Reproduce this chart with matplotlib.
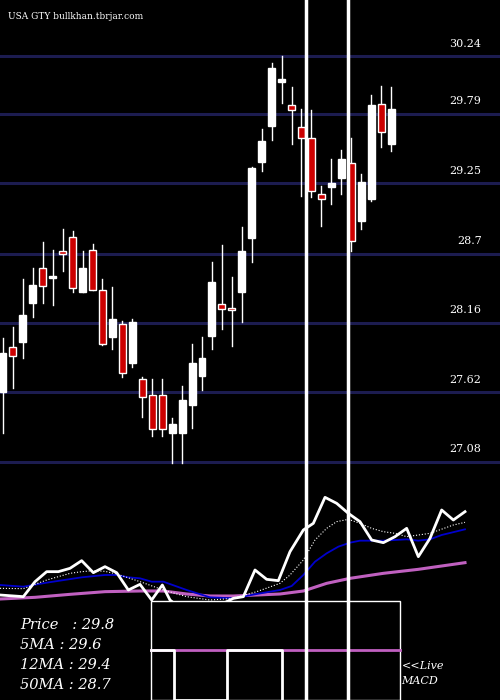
import matplotlib
matplotlib.use("Agg")
import matplotlib.pyplot as plt
from matplotlib.patches import Rectangle

# daily candles (open, high, low, close)
opens  = [27.62, 27.97, 28.01, 28.32, 28.59, 28.51, 28.72, 28.83, 28.40, 28.73,
          28.42, 28.05, 28.15, 27.85, 27.72, 27.60, 27.60, 27.30, 27.30, 27.52,
          27.75, 28.06, 28.31, 28.28, 28.40, 28.82, 29.42, 29.70, 30.04, 29.86,
          29.69, 29.60, 29.17, 29.22, 29.29, 29.41, 28.96, 29.13, 29.87, 29.56]
highs  = [28.04, 28.13, 28.50, 28.59, 28.79, 28.73, 28.89, 28.88, 28.72, 28.78,
          28.50, 28.44, 28.18, 28.19, 27.74, 27.72, 27.72, 27.42, 27.67, 28.00,
          28.05, 28.64, 28.77, 28.52, 28.91, 29.38, 29.67, 30.19, 30.24, 30.00,
          29.83, 29.82, 29.23, 29.44, 29.51, 29.60, 29.32, 29.94, 30.01, 30.00]
lows   = [27.30, 27.65, 27.89, 28.21, 28.32, 28.30, 28.57, 28.40, 28.40, 28.42,
          27.99, 27.96, 27.74, 27.82, 27.43, 27.28, 27.28, 27.07, 27.07, 27.34,
          27.64, 27.96, 28.11, 27.98, 28.17, 28.64, 29.35, 29.59, 29.88, 29.56,
          29.15, 29.14, 28.92, 29.09, 29.17, 28.72, 28.89, 29.11, 29.53, 29.50]
closes = [27.93, 27.90, 28.22, 28.46, 28.45, 28.53, 28.70, 28.43, 28.59, 28.42,
          28.00, 28.19, 27.77, 28.17, 27.58, 27.33, 27.33, 27.37, 27.56, 27.85,
          27.89, 28.48, 28.27, 28.26, 28.72, 29.37, 29.58, 30.15, 30.04, 29.82,
          29.60, 29.19, 29.13, 29.25, 29.44, 28.80, 29.26, 29.86, 29.65, 29.83]
price_levels = [30.24, 29.79, 29.25, 28.7, 28.16, 27.62, 27.08]
vlines_at = [30.5, 34.7]

# lower panel (indicator units)
px_x = [0, 70, 105, 140, 175, 210, 245, 280, 315, 350, 385, 420, 455, 487, 510, 560, 630, 700,
        730, 765, 800, 835, 870, 910, 940, 975, 1010, 1045, 1080, 1115, 1150, 1185, 1220, 1255,
        1290, 1325, 1360, 1395]
px_y = [315, 320, 275, 245, 245, 235, 212, 248, 230, 248, 300, 283, 330, 285, 330, 370, 360, 325,
        320, 240, 268, 272, 185, 120, 100, 22, 40, 70, 95, 150, 158, 140, 115, 200,
        145, 60, 90, 65]
ma5_x = [0, 70, 140, 210, 245, 280, 315, 350, 420, 490, 560, 630, 700, 770, 840, 870, 910, 945,
         980, 1010, 1045, 1080, 1115, 1150, 1185, 1220, 1290, 1360, 1395]
ma5_y = [295, 296, 270, 250, 245, 242, 244, 252, 275, 300, 320, 330, 325, 305, 280, 255, 210, 150,
         115, 95, 88, 100, 115, 125, 130, 140, 130, 105, 97]
ma12_x = [0, 70, 140, 245, 315, 350, 385, 420, 455, 490, 560, 630, 700, 770, 840, 875, 910, 945,
          980, 1015, 1050, 1080, 1150, 1220, 1255, 1290, 1325, 1395]
ma12_y = [285, 290, 278, 262, 255, 255, 262, 265, 275, 275, 300, 322, 325, 312, 300, 288, 255, 215,
          190, 170, 158, 152, 152, 148, 152, 148, 135, 118]
ma50_x = [0, 105, 210, 315, 420, 490, 560, 630, 700, 770, 840, 910, 980, 1050, 1150, 1255, 1395]
ma50_y = [327, 322, 313, 305, 303, 303, 312, 318, 318, 315, 312, 303, 280, 265, 250, 238, 218]
macd_x = [452, 522, 522, 680, 680, 845, 845]
macd_y = [480, 480, 630, 630, 480, 480, 630]
info = ["Price   : 29.8", "5MA : 29.6", "12MA : 29.4", "50MA : 28.7"]

fig = plt.figure(figsize=(5, 7), dpi=100, facecolor="black")
ax = fig.add_axes([0, 100 / 700, 1, 600 / 700])
ax.set_facecolor("black")
ax.set_xlim(-0.3, 49.95)
ax.set_ylim(26.00, 30.68)
ax.axis("off")

for lv in price_levels:
    ax.axhline(lv, color="#1c1c50", lw=2.2, zorder=1)
    ax.text(48.1, lv + 0.06, f"{lv:g}", color="white", ha="right", va="bottom",
            fontsize=8, family="DejaVu Serif")

for i, (o, h, l, c) in enumerate(zip(opens, highs, lows, closes)):
    ax.plot([i, i], [l, h], color="white", lw=1, zorder=2)
    up = c >= o
    bottom = min(o, c)
    height = max(abs(c - o), 0.02)
    ax.add_patch(Rectangle((i - 0.35, bottom), 0.7, height,
                           facecolor="white" if up else "#cc0000",
                           edgecolor="white", lw=1, zorder=3))

ax.text(0.5, 30.55, "USA GTY bullkhan.tbrjar.com", color="white", fontsize=6.5,
        family="DejaVu Serif", va="center")

ax2 = fig.add_axes([0, 0, 1, 0.3])
ax2.set_facecolor("none")
ax2.set_xlim(0, 1500)
ax2.set_ylim(630, 0)
ax2.axis("off")
ax2.plot(ma50_x, ma50_y, color="#c060c0", lw=2.2)
ax2.plot(ma12_x, ma12_y, color="#0000cc", lw=1.3)
ax2.plot(ma5_x, ma5_y, color="white", lw=0.8, ls=":")
ax2.plot(px_x, px_y, color="white", lw=2)
ax2.add_patch(Rectangle((452, 332), 748, 298, facecolor="black", edgecolor="white", lw=1, zorder=4))
ax2.plot([452, 1200], [480, 480], color="#c060c0", lw=2, zorder=5)
ax2.plot(macd_x, macd_y, color="white", lw=2, zorder=6)
for k, t in enumerate(info):
    ax2.text(60, 405 + k * 60, t, color="white", fontsize=10.5, family="DejaVu Serif",
             style="italic", va="center", zorder=7)
ax2.text(1205, 528, "<<Live", color="white", fontsize=8, family="DejaVu Serif",
         style="italic", va="center")
ax2.text(1205, 572, "MACD", color="white", fontsize=8, family="DejaVu Serif",
         style="italic", va="center")

for v in vlines_at:
    xf = (v + 0.3) / 50.25
    fig.add_artist(plt.Line2D([xf, xf], [0, 1], color="white", lw=2.5, zorder=10))

fig.savefig("out.png", dpi=100, facecolor="black")
